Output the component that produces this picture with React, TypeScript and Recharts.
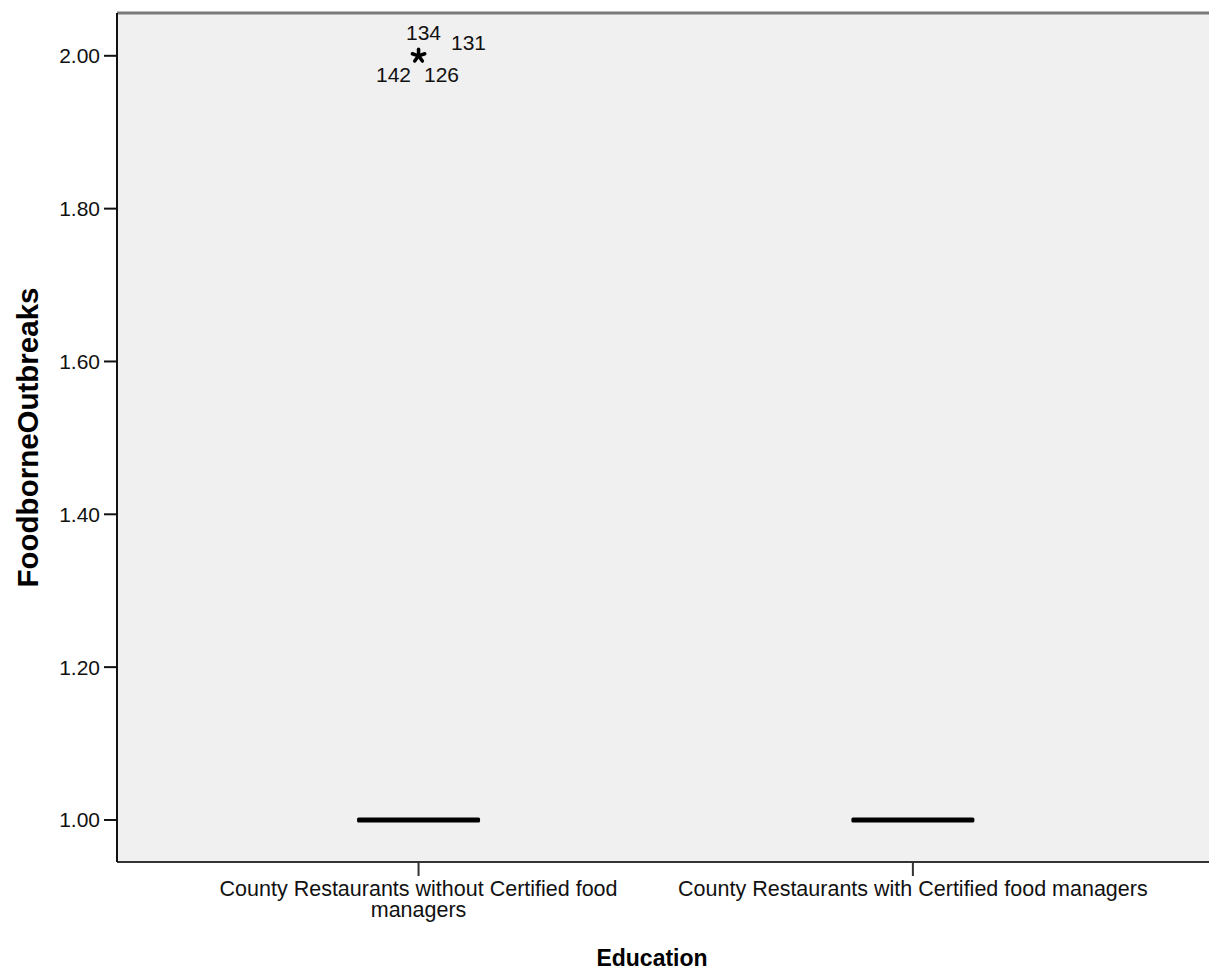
import React from "react";
import {
  ComposedChart,
  Scatter,
  XAxis,
  YAxis,
  CartesianGrid,
  ReferenceLine,
} from "recharts";

// ---- Data ----
const categories = [
  "County Restaurants without Certified food managers",
  "County Restaurants with Certified food managers",
];
const categoryTickLines = [
  ["County Restaurants without Certified food", "managers"],
  ["County Restaurants with Certified food managers"],
];
const categoryIndex = [1, 2];
const medians = [1.0, 1.0];
const lowerQuartiles = [1.0, 1.0];
const upperQuartiles = [1.0, 1.0];
const outlierCategory = [1];
const outlierValues = [2.0];
const outlierCaseIds = [[134, 131, 142, 126]];
const yTicks = [1.0, 1.2, 1.4, 1.6, 1.8, 2.0];
const yDomain = [0.945, 2.056];
const xDomain = [0.39, 2.599];
const yLabel = "FoodborneOutbreaks";
const xLabel = "Education";

// ---- Layout (not data) ----
const FONT = "'Liberation Sans', Arial, sans-serif";
const idLabelOffsets = [
  { dx: 5, dy: -16 },
  { dx: 50, dy: -6 },
  { dx: -25, dy: 26 },
  { dx: 23, dy: 26 },
];

const medianData = categoryIndex.map((c, i) => ({
  x: c,
  y: medians[i],
  q1: lowerQuartiles[i],
  q3: upperQuartiles[i],
  name: categories[i],
}));
const outlierData = outlierCategory.map((c, i) => ({
  x: c,
  y: outlierValues[i],
  ids: outlierCaseIds[i],
}));

const MedianShape = (props: any) => {
  const { cx, cy } = props;
  if (cx == null || cy == null) return null;
  const half = 61.5;
  return (
    <rect x={cx - half} y={cy - 2.5} width={half * 2} height={5} rx={1.5} fill="#000" />
  );
};

const OutlierShape = (props: any) => {
  const { cx, cy, payload } = props;
  if (cx == null || cy == null) return null;
  const r = 6.5;
  const arms = [90, 162, 234, 306, 18];
  return (
    <g>
      {arms.map((a, i) => {
        const rad = (a * Math.PI) / 180;
        return (
          <line
            key={i}
            x1={cx}
            y1={cy}
            x2={cx + r * Math.cos(rad)}
            y2={cy - r * Math.sin(rad)}
            stroke="#000"
            strokeWidth={3.5}
            strokeLinecap="round"
          />
        );
      })}
      {(payload.ids as number[]).map((id, i) => (
        <text
          key={id}
          x={cx + idLabelOffsets[i].dx}
          y={cy + idLabelOffsets[i].dy}
          textAnchor="middle"
          fontFamily={FONT}
          fontSize={21}
          fill="#111"
        >
          {id}
        </text>
      ))}
    </g>
  );
};

const XTick = (props: any) => {
  const { x, y, payload } = props;
  const idx = categoryIndex.indexOf(payload.value);
  const lines = idx >= 0 ? categoryTickLines[idx] : [];
  return (
    <text
      x={x}
      y={y}
      textAnchor="middle"
      fontFamily={FONT}
      fontSize={21.5}
      fill="#111"
    >
      {lines.map((l, i) => (
        <tspan key={i} x={x} dy={i === 0 ? 18 : 21}>
          {l}
        </tspan>
      ))}
    </text>
  );
};

const YLabel = (props: any) => {
  const { viewBox } = props;
  const cy = viewBox.y + viewBox.height / 2;
  const cx = 27;
  return (
    <text
      x={cx}
      y={cy}
      transform={`rotate(-90, ${cx}, ${cy})`}
      textAnchor="middle"
      dominantBaseline="central"
      fontFamily={FONT}
      fontWeight="bold"
      fontSize={29.5}
      fill="#000"
    >
      {yLabel}
    </text>
  );
};

const XLabel = (props: any) => {
  const { viewBox } = props;
  const cx = viewBox.x + viewBox.width / 2 - 11;
  return (
    <text
      x={cx}
      y={966}
      textAnchor="middle"
      fontFamily={FONT}
      fontWeight="bold"
      fontSize={23}
      fill="#000"
    >
      {xLabel}
    </text>
  );
};

export default function App() {
  return (
    <div style={{ position: "absolute", left: 0, top: 0, width: 1209, height: 970, background: "#fff" }}>
      <ComposedChart
        width={1209}
        height={970}
        margin={{ top: 13, right: 0, bottom: 0, left: 0 }}
      >
        <CartesianGrid horizontal={false} vertical={false} fill="#f0f0f0" />
        <XAxis
          xAxisId="bottom"
          dataKey="x"
          type="number"
          domain={xDomain}
          allowDataOverflow
          ticks={categoryIndex}
          tick={<XTick />}
          tickSize={14}
          tickMargin={2}
          height={108}
          axisLine={{ stroke: "#333", strokeWidth: 2 }}
          tickLine={{ stroke: "#333", strokeWidth: 2 }}
          label={<XLabel />}
        />
        <YAxis
          yAxisId="left"
          type="number"
          domain={yDomain}
          allowDataOverflow
          ticks={yTicks}
          tickFormatter={(v: number) => v.toFixed(2)}
          tick={{ fontFamily: FONT, fontSize: 21, fill: "#111" }}
          tickSize={13}
          tickMargin={4}
          width={117}
          axisLine={{ stroke: "#111", strokeWidth: 2 }}
          tickLine={{ stroke: "#111", strokeWidth: 2 }}
          label={<YLabel />}
        />
        <ReferenceLine
          xAxisId="bottom"
          yAxisId="left"
          y={yDomain[1]}
          stroke="#7a7a7a"
          strokeWidth={3}
          ifOverflow="visible"
        />
        <Scatter
          xAxisId="bottom"
          yAxisId="left"
          data={medianData}
          dataKey="y"
          shape={<MedianShape />}
          isAnimationActive={false}
        />
        <Scatter
          xAxisId="bottom"
          yAxisId="left"
          data={outlierData}
          dataKey="y"
          shape={<OutlierShape />}
          isAnimationActive={false}
        />
      </ComposedChart>
    </div>
  );
}
